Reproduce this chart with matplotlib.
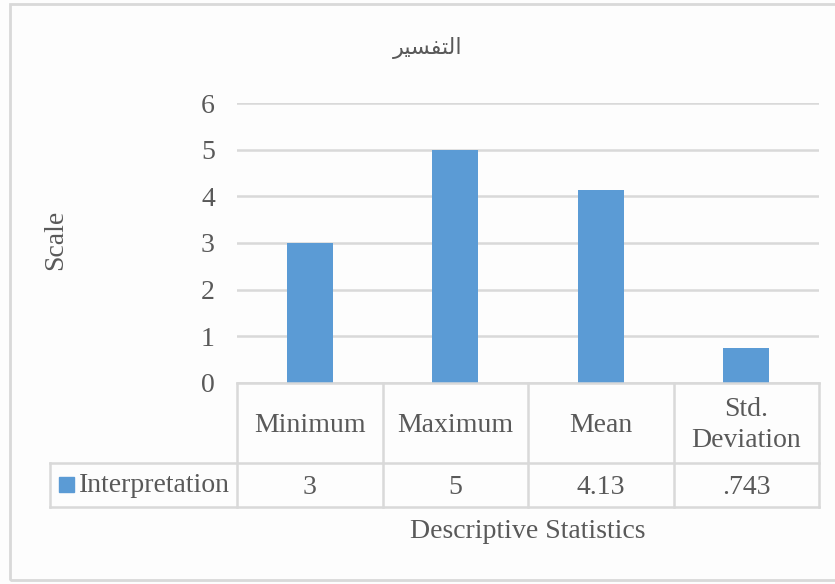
import matplotlib.pyplot as plt
from matplotlib.patches import Rectangle
from matplotlib.lines import Line2D
import matplotlib.transforms as mtransforms

# chart data
categories = ["Minimum", "Maximum", "Mean", "Std.\nDeviation"]
values = [3, 5, 4.13, 0.743]
value_labels = ["3", "5", "4.13", ".743"]
series_name = "Interpretation"
y_ticks = [0, 1, 2, 3, 4, 5, 6]

# Arabic title, pre-shaped (presentation forms, visual order) since matplotlib has no shaping
title = "\uFEAE\uFEF4\uFEB4\uFED4\uFE98\uFEDF\uFE8D"

W, H = 835, 584
BAR = "#5b9bd5"
GRID = "#d9d9d9"
TXT = "#595959"
FS = 20

plt.rcParams["font.family"] = ["Liberation Serif", "DejaVu Sans"]

fig = plt.figure(figsize=(W / 100, H / 100), dpi=100)
fig.patch.set_facecolor("#fdfdfd")


def px_box(x0, y0, x1, y1):
    return [x0 / W, 1 - y1 / H, (x1 - x0) / W, (y1 - y0) / H]


# outer chart border
fig.add_artist(Rectangle((10 / W, 1 - 580 / H), 840 / W, 576 / H, transform=fig.transFigure,
                         fill=False, edgecolor=GRID, linewidth=2))

ax = fig.add_axes(px_box(237, 103, 819, 383))
ax.set_facecolor("none")
x = list(range(len(categories)))
ax.bar(x, values, width=0.314, color=BAR, zorder=2)
ax.set_xlim(-0.5, len(categories) - 0.5)
ax.set_ylim(0, 6)
ax.set_yticks(y_ticks)
ax.set_yticklabels([str(t) for t in y_ticks], fontsize=FS, color=TXT)
ax.tick_params(axis="y", length=0, pad=16)
ax.set_xticks([])
for s in ax.spines.values():
    s.set_visible(False)
ax.grid(axis="y", color=GRID, linewidth=1.8, zorder=0)

# data table under the plot area
tr = mtransforms.blended_transform_factory(ax.transData, ax.transAxes)
row1 = -(463 - 383) / 280
row2 = -(507 - 383) / 280
left_cell = -0.5 - (237 - 50) / 145.5
kw = dict(transform=tr, color=GRID, linewidth=1.8, clip_on=False)

ax.add_line(Line2D([-0.5, 3.5], [0, 0], **kw))
ax.add_line(Line2D([left_cell, 3.5], [row1, row1], **kw))
ax.add_line(Line2D([left_cell, 3.5], [row2, row2], **kw))
ax.add_line(Line2D([left_cell, left_cell], [row1, row2], **kw))
for b in [-0.5, 0.5, 1.5, 2.5, 3.5]:
    ax.add_line(Line2D([b, b], [0, row2], **kw))

nudge = -2 / 280
for i, (cat, lab) in enumerate(zip(categories, value_labels)):
    ax.text(i, row1 / 2 + nudge, cat, transform=tr, ha="center", va="center", fontsize=FS,
            color=TXT, linespacing=1.3)
    ax.text(i, (row1 + row2) / 2 + nudge, lab, transform=tr, ha="center", va="center",
            fontsize=FS, color=TXT)

# legend key in the table's first column
fig.add_artist(Rectangle((59 / W, 1 - 492 / H), 15 / W, 15 / H, transform=fig.transFigure,
                         color=BAR))
fig.text(79 / W, 1 - 486 / H, series_name, ha="left", va="center", fontsize=FS, color=TXT)

fig.text(428 / W, 1 - 48 / H, title, ha="center", va="center", fontsize=16, color=TXT,
         family=["DejaVu Sans"])
fig.text(528 / W, 1 - 532 / H, "Descriptive Statistics", ha="center", va="center",
         fontsize=FS, color=TXT)
fig.text(56 / W, 1 - 240 / H, "Scale", ha="center", va="center", rotation=90,
         fontsize=FS, color=TXT)

fig.savefig("out.png", dpi=100, facecolor=fig.get_facecolor())
